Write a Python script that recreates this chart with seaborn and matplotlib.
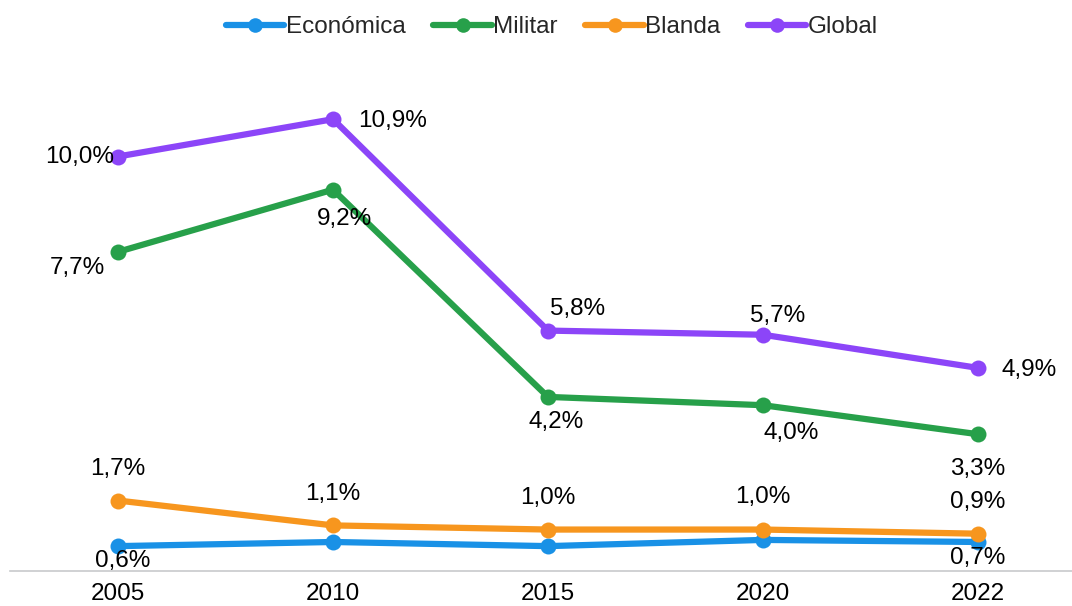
import matplotlib
matplotlib.use("Agg")
import matplotlib.pyplot as plt
import seaborn as sns
import pandas as pd
from matplotlib.lines import Line2D

years = ["2005", "2010", "2015", "2020", "2022"]
economica = [0.6, 0.7, 0.6, 0.75, 0.7]
militar = [7.7, 9.2, 4.2, 4.0, 3.3]
blanda = [1.7, 1.1, 1.0, 1.0, 0.9]
global_ = [10.0, 10.9, 5.8, 5.7, 4.9]
series_names = ["Económica", "Militar", "Blanda", "Global"]

colors = {"Económica": "#1991E6", "Militar": "#27A04A", "Blanda": "#F7961E", "Global": "#8C45F8"}

sns.set_theme(style="white")
plt.rcParams["font.family"] = ["Liberation Sans", "DejaVu Sans"]

rows = []
for name, vals in zip(series_names, [economica, militar, blanda, global_]):
    for i, (y, v) in enumerate(zip(years, vals)):
        rows.append({"pos": i, "year": y, "serie": name, "valor": v})
df = pd.DataFrame(rows)

FS = 17.5
fig = plt.figure(figsize=(10.72, 6.06), dpi=100)
ax = fig.add_axes([10 / 1072, 35 / 606, 1 - 10 / 1072, 497.4 / 606])

sns.lineplot(data=df, x="pos", y="valor", hue="serie", hue_order=series_names,
             palette=colors, marker="o", markersize=11.5, markeredgewidth=0,
             linewidth=4.5, ax=ax, sort=False, legend=False)

ax.set_ylim(0, 12)
left = -108 / 215
ax.set_xlim(left, left + 1062 / 215)
ax.set_xticks(range(len(years)))
ax.set_xticklabels(years, fontsize=FS)
ax.set_yticks([])
ax.set_xlabel("")
ax.set_ylabel("")
for s in ["top", "right", "left"]:
    ax.spines[s].set_visible(False)
ax.spines["bottom"].set_color("#C8CACC")
ax.spines["bottom"].set_linewidth(1.2)
ax.tick_params(axis="x", length=0, pad=9, colors="black")

def fmt(v):
    return f"{v:.1f}".replace(".", ",") + "%"

# label offsets in pixels (dx, dy, ha)
offsets = {
    "Global": [(-4, 0, "right"), (25, -2, "left"), (30, 22, "center"), (15, 19, "center"), (24, -2, "left")],
    "Militar": [(-41, -16, "center"), (12, -29, "center"), (8, -25, "center"), (28, -28, "center"), (0, -35, "center")],
    "Blanda": [(0, 32, "center"), (0, 31, "center"), (0, 32, "center"), (0, 33, "center"), (0, 32, "center")],
    "Económica": [(5, -15, "center"), None, None, None, (0, -16, "center")],
}
data_map = {"Económica": economica, "Militar": militar, "Blanda": blanda, "Global": global_}
for name in series_names:
    for i, v in enumerate(data_map[name]):
        off = offsets[name][i]
        if off is None:
            continue
        dx, dy, ha = off
        ax.annotate(fmt(v), (i, v), xytext=(dx, dy), textcoords="offset pixels",
                    ha=ha, va="center", fontsize=FS, color="black")

handles = [Line2D([0], [0], color=colors[n], lw=4.5, marker="o", markersize=10.5,
                  markeredgewidth=0) for n in series_names]
fig.legend(handles, series_names, loc="center", bbox_to_anchor=(552 / 1072, 1 - 27 / 606),
           ncol=4, frameon=False, fontsize=FS, handlelength=2.4, handletextpad=0.05,
           columnspacing=1.15)

fig.savefig("out.png", dpi=100)
